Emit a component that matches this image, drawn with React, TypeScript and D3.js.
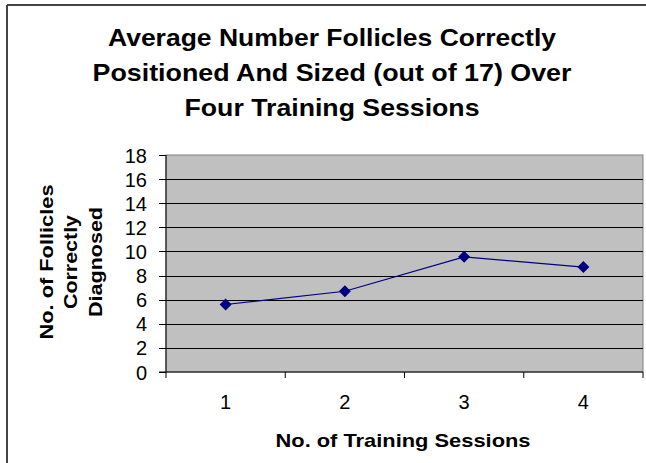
import React from "react";
import * as d3 from "d3";

const sessions = ["1", "2", "3", "4"];
const values = [5.6, 6.7, 9.55, 8.7];
const yTicks = [0, 2, 4, 6, 8, 10, 12, 14, 16, 18];
const titleLines = [
  "Average Number Follicles Correctly",
  "Positioned And Sized (out of 17) Over",
  "Four Training Sessions",
];
const yTitleLines = ["No. of Follicles", "Correctly", "Diagnosed"];
const xTitle = "No. of Training Sessions";

export default function App() {
  const W = 646, H = 463;
  const left = 166, right = 643, top = 155, bottom = 372;
  const x = d3.scaleBand<string>().domain(sessions).range([left, right]);
  const y = d3.scaleLinear().domain([0, 18]).range([bottom, top]);
  const line = d3
    .line<number>()
    .x((_, i) => (x(sessions[i]) as number) + x.bandwidth() / 2)
    .y((d) => y(d));
  const font = "Arial, 'Liberation Sans', sans-serif";
  const titleW = [448, 479, 295];
  const yTitleW = [155, 94, 110];
  const yTitleX = [53, 77, 102];
  return (
    <svg
      width={W}
      height={H}
      style={{ position: "absolute", left: 0, top: 0, background: "#fff" }}
    >
      <rect x={0} y={0} width={W} height={H} fill="#fff" />
      {/* outer frame */}
      <line x1={7} y1={5} x2={W} y2={5} stroke="#444" strokeWidth={2} />
      <line x1={7} y1={5} x2={7} y2={H} stroke="#444" strokeWidth={2} />
      {/* title */}
      {titleLines.map((t, i) => (
        <text
          key={i}
          x={332}
          y={46 + i * 35}
          textAnchor="middle"
          fontFamily={font}
          fontWeight="bold"
          fontSize={24}
          textLength={titleW[i]}
          lengthAdjust="spacingAndGlyphs"
          fill="#000"
        >
          {t}
        </text>
      ))}
      {/* plot area */}
      <rect
        x={left}
        y={top}
        width={right - left}
        height={bottom - top}
        fill="#c0c0c0"
        stroke="#808080"
        strokeWidth={1}
      />
      {yTicks.slice(1, -1).map((t) => (
        <line
          key={t}
          x1={left}
          x2={right}
          y1={Math.round(y(t)) + 0.5}
          y2={Math.round(y(t)) + 0.5}
          stroke="#000"
          strokeWidth={1}
        />
      ))}
      {/* axes */}
      <line x1={left} x2={left} y1={top} y2={bottom + 6} stroke="#000" strokeWidth={1} />
      <line x1={left - 7} x2={right} y1={bottom} y2={bottom} stroke="#000" strokeWidth={1} />
      {yTicks.map((t) => (
        <g key={t}>
          <line
            x1={left - 7}
            x2={left}
            y1={Math.round(y(t)) + 0.5}
            y2={Math.round(y(t)) + 0.5}
            stroke="#000"
          />
          <text
            x={147}
            y={y(t) + 7.5}
            textAnchor="end"
            fontFamily={font}
            fontSize={20}
            fill="#000"
          >
            {t}
          </text>
        </g>
      ))}
      {sessions.map((s, i) => (
        <g key={s}>
          <line
            x1={(x(s) as number) + x.bandwidth()}
            x2={(x(s) as number) + x.bandwidth()}
            y1={bottom}
            y2={bottom + 6}
            stroke="#000"
          />
          <text
            x={(x(s) as number) + x.bandwidth() / 2}
            y={409}
            textAnchor="middle"
            fontFamily={font}
            fontSize={20}
            fill="#000"
          >
            {s}
          </text>
        </g>
      ))}
      {/* series */}
      <path d={line(values) || ""} fill="none" stroke="#000080" strokeWidth={1.2} />
      {values.map((v, i) => {
        const cx = (x(sessions[i]) as number) + x.bandwidth() / 2;
        const cy = y(v);
        return (
          <path
            key={i}
            d={`M${cx},${cy - 6}L${cx + 6},${cy}L${cx},${cy + 6}L${cx - 6},${cy}Z`}
            fill="#000080"
          />
        );
      })}
      {/* axis titles */}
      <text
        x={403}
        y={447}
        textAnchor="middle"
        fontFamily={font}
        fontWeight="bold"
        fontSize={19}
        textLength={255}
        lengthAdjust="spacingAndGlyphs"
        fill="#000"
      >
        {xTitle}
      </text>
      {yTitleLines.map((t, i) => (
        <text
          key={i}
          transform={`translate(${yTitleX[i]},262) rotate(-90)`}
          textAnchor="middle"
          fontFamily={font}
          fontWeight="bold"
          fontSize={19}
          textLength={yTitleW[i]}
          lengthAdjust="spacingAndGlyphs"
          fill="#000"
        >
          {t}
        </text>
      ))}
    </svg>
  );
}
